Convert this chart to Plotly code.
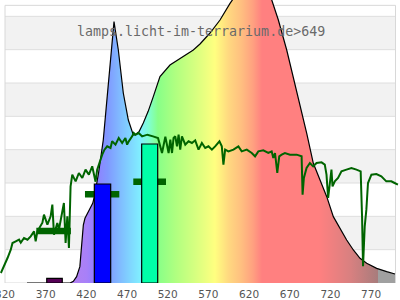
import plotly.graph_objects as go

# ---- data ----
spec_nm = [347, 400, 404, 408, 412, 414.3, 416.3, 418.3, 421.2, 424.5, 427.8, 429.8, 435, 440.8, 445.0,
           449.1, 454.0, 459.3, 465.4, 471.6, 477.7, 479.8, 485, 490.0, 496, 502.3, 510.5, 522.8, 535.1, 551.5,
           559.7, 572, 584.3, 596.6, 610, 622, 632, 640, 647.9, 656.0, 666.3, 674.4, 682.6, 690.9, 699.0,
           707.2, 715.5, 723.6, 731.8, 740.0, 748.2, 756.4, 764.6, 776.9, 789.2, 799.4]
spec_val = [0, 0, 0.05, 0.19, 0.49, 1.09, 1.74, 1.94, 2.09, 2.24, 2.39, 2.58, 3.3, 4.29, 5.49,
            6.49, 7.84, 6.99, 5.70, 4.89, 4.44, 4.44, 4.55, 4.80, 5.15, 5.59, 6.19, 6.54, 6.74, 6.99,
            7.17, 7.5, 7.89, 8.39, 8.85, 9.25, 9.45, 9.25, 8.49, 7.89, 6.99, 6.19, 5.39, 4.49, 3.59,
            3.09, 2.59, 1.99, 1.64, 1.29, 0.99, 0.74, 0.59, 0.44, 0.34, 0.27]

green_nm = [314.9, 318.9, 323.1, 327.1, 329.2, 333.2, 337.3, 339.4, 343.4, 347.6,
            351.6, 355.7, 357.7, 359.8, 366.0, 367.9, 372.1, 376.1, 378.2, 380.2,
            384.3, 386.3, 390.5, 392.4, 394.5, 396.6, 398.6, 400.6, 402.7, 406.8,
            410.8, 415.0, 419.0, 423.1, 427.2, 431.3, 433.3, 435.3, 437.4, 439.5,
            442.3, 445.6, 449.7, 451.7, 455.8, 459.8, 464.0, 468.0, 470.1, 472.1,
            476.3, 478.2, 480.3, 484.3, 488.5, 495, 502, 508.1, 513.0, 517.1,
            521.1, 523.2, 525.3, 527.2, 529.3, 531.4, 533.4, 535.4, 537.5, 541.6,
            545.6, 549.8, 553.8, 557.9, 562.0, 566.1, 570.1, 574.3, 578.3, 583.6,
            586.5, 588.5, 590.6, 594.6, 600.8, 606.9, 611.0, 617.2, 623.3, 627.4,
            631.4, 637.5, 643.7, 647.8, 649.8, 651.9, 654.7, 657.1, 660.1, 664.1,
            670.3, 678.5, 684.6, 685.8, 687.4, 690.7, 694.8, 698.8, 703.0, 709.1,
            713.1, 715.2, 717.2, 719.3, 721.3, 722.6, 725.4, 729.4, 733.6, 739.7,
            745.9, 752.0, 757.2, 758.9, 760.1, 762.2, 764.2, 766.2, 770.4, 776.5,
            782.6, 788.7, 794.9, 798.9, 803]
green_val = [0.30, 0.50, 0.75, 1.00, 1.20, 1.25, 1.30, 1.21, 1.35, 1.30,
             1.40, 1.55, 1.25, 1.55, 1.81, 2.05, 1.75, 2.00, 2.35, 1.45,
             1.80, 1.60, 2.10, 2.40, 1.20, 2.00, 1.05, 2.90, 3.25, 3.05,
             3.30, 3.15, 3.40, 3.25, 3.50, 3.04, 3.40, 3.55, 3.70, 3.85,
             4.00, 4.10, 4.05, 4.25, 4.15, 4.35, 4.20, 4.35, 4.15, 4.25,
             4.40, 4.50, 4.45, 4.50, 4.40, 4.45, 4.40, 4.35, 3.90, 4.39,
             3.90, 4.30, 3.90, 4.35, 4.40, 4.10, 4.45, 4.00, 4.40, 4.15,
             4.25, 4.20, 4.28, 4.00, 4.20, 4.05, 4.10, 4.00, 4.10, 4.25,
             4.10, 3.55, 4.00, 3.95, 4.00, 4.10, 3.95, 4.00, 3.90, 3.80,
             3.95, 3.98, 3.90, 3.95, 3.75, 3.90, 3.30, 3.80, 3.85, 3.90,
             3.85, 3.85, 3.80, 2.65, 3.15, 3.45, 3.60, 3.50, 3.60, 3.62,
             3.55, 3.25, 2.55, 2.95, 3.40, 2.90, 3.05, 3.15, 3.35, 3.40,
             3.45, 3.40, 3.35, 2.00, 0.50, 1.70, 2.20, 3.00, 3.25, 3.27,
             3.20, 3.05, 3.05, 3.00, 2.95]

band_lo = [371.3, 429.8, 488.0]
band_hi = [390.4, 449.9, 507.7]
band_val = [0.14, 2.97, 4.17]
band_col = ['#550055', '#0000ff', '#00ffa8']

seg_lo = [358.5, 418.3, 477.7]
seg_hi = [401.0, 460.5, 517.9]
seg_val = [1.56, 2.66, 3.04]

grad_nm = [400, 420, 432, 446, 460, 475, 487, 497, 508, 530, 555, 578, 595, 610, 625, 636,
           706, 745, 778, 779, 806]
grad_col = ['#b482f0', '#a880f8', '#9080ff', '#8098ff', '#80b8ff', '#80d8ff', '#80f0ff', '#80ffd0',
            '#88ff88', '#b0ff80', '#d8ff80', '#ffff80', '#ffd880', '#ffc080', '#ffa080', '#ff8080',
            '#ff8080', '#d88080', '#a87c7c', '#a0a0a0', '#a0a0a0']

tick_vals = [320, 370, 420, 470, 520, 570, 620, 670, 720, 770]
title_text = "lamps.licht-im-terrarium.de>649"

X_MIN, X_MAX = 320, 800
Y_TOP = 8.33
grid_levels = [1, 2, 3, 4, 5, 6, 7, 8]
band_rows = [(1, 2), (3, 4), (5, 6), (7, 8)]

# ---- figure ----
g0, g1 = grad_nm[0], grad_nm[-1]
colorscale = [[(n - g0) / (g1 - g0), c] for n, c in zip(grad_nm, grad_col)]

fig = go.Figure()
fig.add_trace(go.Scatter(
    x=spec_nm, y=spec_val, mode='lines', fill='tozeroy',
    line=dict(color='black', width=1.2),
    fillgradient=dict(type='horizontal', colorscale=colorscale, start=g0, stop=g1),
    hoverinfo='skip', showlegend=False))

fig.add_trace(go.Scatter(
    x=green_nm, y=green_val, mode='lines',
    line=dict(color='#006400', width=2), showlegend=False, hoverinfo='skip'))

sx, sy = [], []
for a, b, v in zip(seg_lo, seg_hi, seg_val):
    sx += [a, b, None]
    sy += [v, v, None]
fig.add_trace(go.Scatter(x=sx, y=sy, mode='lines',
                         line=dict(color='#006400', width=6.5), showlegend=False, hoverinfo='skip'))

for a, b, v, c in zip(band_lo, band_hi, band_val, band_col):
    fig.add_trace(go.Scatter(x=[a, a, b, b, a], y=[0, v, v, 0, 0], mode='lines', fill='toself',
                             fillcolor=c, line=dict(color='black', width=1.2),
                             showlegend=False, hoverinfo='skip'))

shapes = []
for lo, hi in band_rows:
    shapes.append(dict(type='rect', xref='x', yref='y', x0=X_MIN, x1=X_MAX, y0=lo, y1=hi,
                       fillcolor='#f2f2f2', line=dict(width=0), layer='below'))
for g in grid_levels:
    shapes.append(dict(type='line', xref='x', yref='y', x0=X_MIN, x1=X_MAX, y0=g, y1=g,
                       line=dict(color='#dedede', width=1), layer='below'))
shapes.append(dict(type='rect', xref='x', yref='y', x0=X_MIN, x1=X_MAX, y0=0, y1=Y_TOP,
                   line=dict(color='#d8d8d8', width=1), layer='below'))

fig.update_layout(
    width=400, height=300,
    margin=dict(l=0, r=0, t=0, b=17, autoexpand=False),
    paper_bgcolor='white', plot_bgcolor='white',
    shapes=shapes,
    xaxis=dict(range=[313.85, 805.55], tickvals=tick_vals, ticktext=[str(t) for t in tick_vals],
               showgrid=False, zeroline=False, showline=False, ticks='', automargin=False,
               ticklabeloverflow='allow', ticklabelstandoff=3,
               tickfont=dict(family='DejaVu Sans', size=10.5, color='#555555')),
    yaxis=dict(range=[0, 8.49], visible=False, automargin=False),
    annotations=[dict(text=title_text, xref='paper', yref='paper', x=0.502, y=0.888,
                      xanchor='center', yanchor='middle', showarrow=False,
                      font=dict(family='DejaVu Sans Mono', size=13.3, color='#6a6a6a'))],
)

fig.write_html("out.html")
